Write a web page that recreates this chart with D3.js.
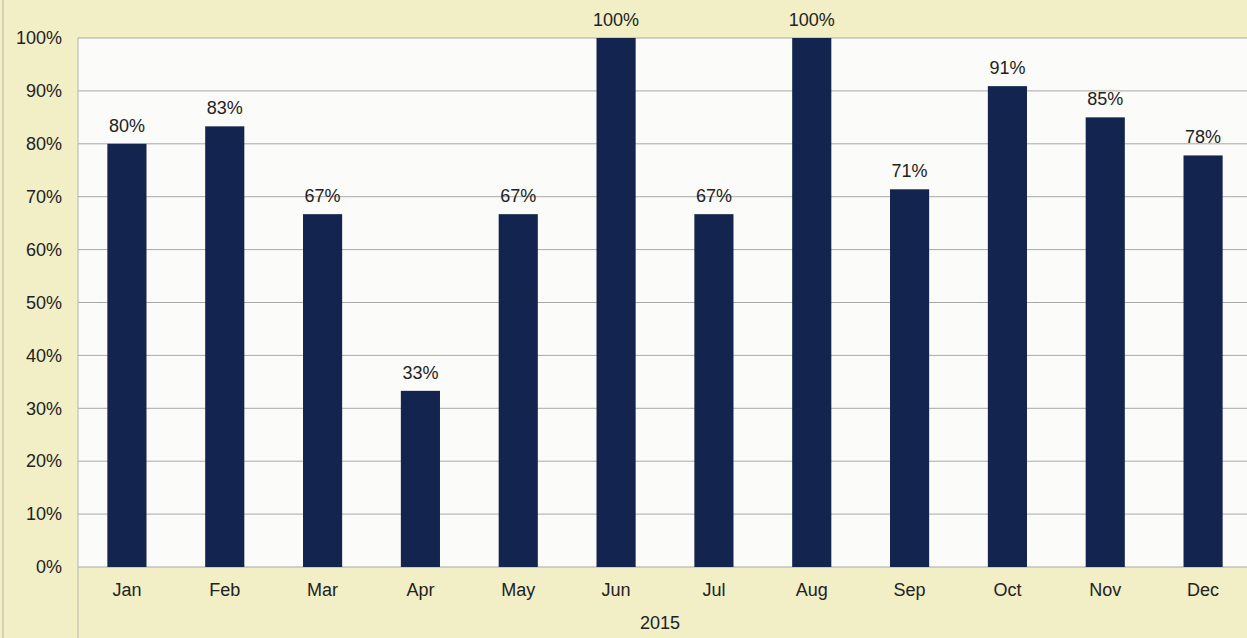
<!DOCTYPE html>
<html>
<head>
<meta charset="utf-8">
<script src="https://cdn.jsdelivr.net/npm/d3@7"></script>
<style>
  body { margin: 0; background: #f2eec5; }
  svg { display: block; font-family: "Liberation Sans", Arial, sans-serif; }
</style>
</head>
<body>
<div id="chart"></div>
<script>
var months = ['Jan', 'Feb', 'Mar', 'Apr', 'May', 'Jun', 'Jul', 'Aug', 'Sep', 'Oct', 'Nov', 'Dec'];
var values = [80, 83.3, 66.7, 33.3, 66.7, 100, 66.7, 100, 71.4, 90.9, 85, 77.8];
var labels = ['80%', '83%', '67%', '33%', '67%', '100%', '67%', '100%', '71%', '91%', '85%', '78%'];
var yTicks = [0, 10, 20, 30, 40, 50, 60, 70, 80, 90, 100];
var axisTitle = '2015';

var width = 1247, height = 638;
var margin = { top: 38, right: -5, bottom: 71, left: 78 };
var innerW = width - margin.left - margin.right;
var innerH = height - margin.top - margin.bottom;

var svg = d3.select('#chart').append('svg')
  .attr('width', width)
  .attr('height', height);

// paper background
svg.append('rect').attr('width', width).attr('height', height).attr('fill', '#f2eec5');
svg.append('line')
  .attr('x1', 3).attr('x2', 3).attr('y1', 0).attr('y2', height)
  .attr('stroke', '#b8b6a6').attr('stroke-width', 1);

var g = svg.append('g')
  .attr('transform', 'translate(' + margin.left + ',' + margin.top + ')');

var x = d3.scaleBand().domain(months).range([0, innerW]).paddingInner(0.6).paddingOuter(0.3);
var y = d3.scaleLinear().domain([0, 100]).range([innerH, 0]);

// plot area
g.append('rect')
  .attr('width', innerW).attr('height', innerH)
  .attr('fill', '#fbfbf9');

// gridlines
g.selectAll('line.grid')
  .data(yTicks)
  .enter().append('line')
  .attr('class', 'grid')
  .attr('x1', 0).attr('x2', innerW)
  .attr('y1', function(d) { return y(d); })
  .attr('y2', function(d) { return y(d); })
  .attr('stroke', '#a9a9a6')
  .attr('stroke-width', 1);

// left boundary line running down through the label area
g.append('line')
  .attr('x1', 0).attr('x2', 0).attr('y1', 0).attr('y2', height - margin.top)
  .attr('stroke', '#b5b5b0').attr('stroke-width', 1);

// y axis
var yAxis = d3.axisLeft(y).tickValues(yTicks).tickSize(0).tickPadding(16)
  .tickFormat(function(d) { return d + '%'; });
g.append('g').call(yAxis)
  .call(function(s) { s.select('.domain').remove(); })
  .selectAll('text')
  .attr('font-size', 18)
  .attr('fill', '#222');

// x axis
var xAxis = d3.axisBottom(x).tickSize(0).tickPadding(16);
g.append('g').attr('transform', 'translate(0,' + innerH + ')').call(xAxis)
  .call(function(s) { s.select('.domain').remove(); })
  .selectAll('text')
  .attr('font-size', 18)
  .attr('fill', '#222');

// bars
g.selectAll('rect.bar')
  .data(values)
  .enter().append('rect')
  .attr('class', 'bar')
  .attr('x', function(d, i) { return x(months[i]); })
  .attr('y', function(d) { return y(d); })
  .attr('width', x.bandwidth())
  .attr('height', function(d) { return innerH - y(d); })
  .attr('fill', '#13244f');

// value labels
g.selectAll('text.val')
  .data(values)
  .enter().append('text')
  .attr('class', 'val')
  .attr('x', function(d, i) { return x(months[i]) + x.bandwidth() / 2; })
  .attr('y', function(d) { return y(d) - 12; })
  .attr('text-anchor', 'middle')
  .attr('font-size', 18)
  .attr('fill', '#222')
  .text(function(d, i) { return labels[i]; });

// axis title
svg.append('text')
  .attr('x', 660)
  .attr('y', 629)
  .attr('text-anchor', 'middle')
  .attr('font-size', 18)
  .attr('fill', '#222')
  .text(axisTitle);
</script>
</body>
</html>
